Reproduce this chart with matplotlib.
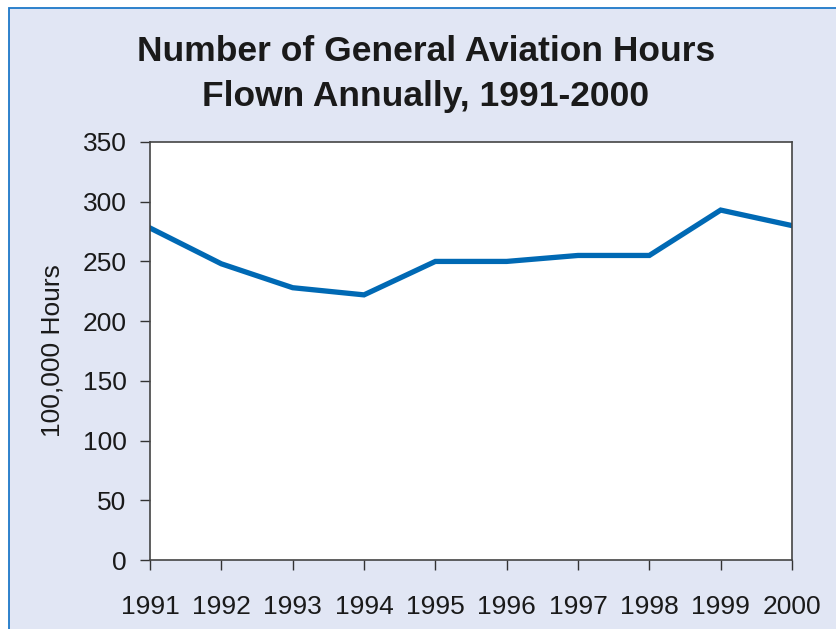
import matplotlib.pyplot as plt
from matplotlib.patches import Rectangle

years = [1991, 1992, 1993, 1994, 1995, 1996, 1997, 1998, 1999, 2000]
hours = [278, 248, 228, 222, 250, 250, 255, 255, 293, 280]
yticks = [0, 50, 100, 150, 200, 250, 300, 350]

plt.rcParams['font.family'] = ['Liberation Sans', 'DejaVu Sans']

W, H = 836, 629
fig = plt.figure(figsize=(W / 100, H / 100), dpi=100, facecolor='white')

# light blue panel with blue border on left/top
bg = Rectangle((8.5 / W, -0.01), 1.0, 1 - 8.5 / H + 0.01, transform=fig.transFigure,
               facecolor='#E1E6F4', edgecolor='#1E78C8', linewidth=1.3, zorder=-10)
fig.patches.append(bg)

ax = fig.add_axes([150 / W, (H - 560) / H, 642 / W, 418 / H])
ax.set_facecolor('white')
ax.plot(years, hours, color='#0069B4', linewidth=3.8, solid_joinstyle='miter')

ax.set_xlim(1991, 2000)
ax.set_ylim(0, 350)
ax.set_xticks(years)
ax.set_yticks(yticks)
ax.tick_params(direction='out', length=7, width=1, color='#333333',
               labelsize=19, labelcolor='#1a1a1a', pad=10)
ax.tick_params(axis='x', pad=18)
for s in ax.spines.values():
    s.set_color('#444444')
    s.set_linewidth(1.2)

ax.set_ylabel('100,000 Hours', fontsize=19, color='#1a1a1a', labelpad=13)

fig.text(426 / W, 1 - 74 / H, 'Number of General Aviation Hours\nFlown Annually, 1991-2000',
         ha='center', va='center', fontsize=25.5, fontweight='bold', color='#1a1a1a',
         linespacing=1.45)

fig.savefig('out.png', dpi=100, facecolor=fig.get_facecolor())
